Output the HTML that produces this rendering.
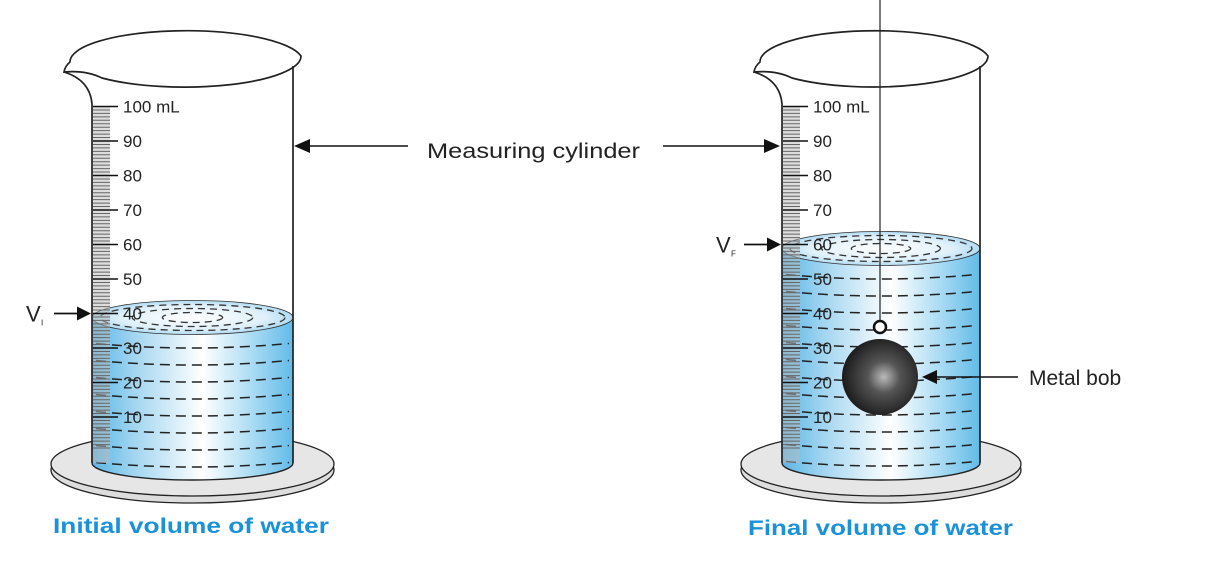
<!DOCTYPE html>
<html><head><meta charset="utf-8"><style>
html,body{margin:0;padding:0;background:#fff;}
svg{display:block;font-family:"Liberation Sans",sans-serif;}
</style></head><body>
<svg id="s" width="1211" height="576" viewBox="0 0 1211 576">
<defs>
<linearGradient id="water" x1="0" x2="1" y1="0" y2="0">
<stop offset="0" stop-color="#5ab6e6"/><stop offset="0.2" stop-color="#9fd4f0"/><stop offset="0.55" stop-color="#ffffff"/><stop offset="0.8" stop-color="#a9dbf3"/><stop offset="1" stop-color="#62bbe8"/>
</linearGradient>
<radialGradient id="surf" cx="0.5" cy="0.5" r="0.6">
<stop offset="0" stop-color="#ffffff"/><stop offset="0.6" stop-color="#dff0fa"/><stop offset="1" stop-color="#8fcdee"/>
</radialGradient>
<radialGradient id="bob" cx="0.55" cy="0.5" r="0.6">
<stop offset="0" stop-color="#bbb"/><stop offset="0.35" stop-color="#555"/><stop offset="1" stop-color="#111"/>
</radialGradient>
</defs>
<g id="left"></g>
<g id="right"></g>
<g>
<line x1="408" y1="146" x2="305" y2="146" stroke="#111" stroke-width="1.6"/>
<polygon points="294,146 310,139 310,153" fill="#111"/>
<text x="427" y="158" font-size="21" fill="#222" textLength="213" lengthAdjust="spacingAndGlyphs">Measuring cylinder</text>
<line x1="663" y1="146" x2="768" y2="146" stroke="#111" stroke-width="1.6"/>
<polygon points="780,146 764,139 764,153" fill="#111"/>
</g>
<text x="53" y="533" font-size="21" font-weight="bold" fill="#1b92d8" textLength="276" lengthAdjust="spacingAndGlyphs">Initial volume of water</text>
<text x="748" y="535" font-size="21" font-weight="bold" fill="#1b92d8" textLength="265" lengthAdjust="spacingAndGlyphs">Final volume of water</text>
</svg>
<script>
const levels = [40, 60];
const ticks = [100, 90, 80, 70, 60, 50, 40, 30, 20, 10];
const NS = "http://www.w3.org/2000/svg";
function mk(p, tag, a) { const e = document.createElementNS(NS, tag); for (const k in a) e.setAttribute(k, a[k]); p.appendChild(e); return e; }
function yv(v) { return 451.5 - 3.45 * v; }
function beaker(g, x0, x1, level, label, bob) {
  const cx = (x0 + x1) / 2, rx = (x1 - x0) / 2;
  let e = mk(g, 'ellipse', {cx: cx, cy: 470, rx: rx + 41, ry: 33, fill: '#ddd', stroke: '#222', 'stroke-width': 1.3});
   
  e = mk(g, 'ellipse', {cx: cx, cy: 464, rx: rx + 41, ry: 32, fill: '#e6e6e6', stroke: '#222', 'stroke-width': 1.3});
   
  const ys = yv(level) + 4, yb = 463;
  const w = mk(g, 'path', {d: `M${x0},${ys} L${x0},${yb} A${rx},17 0 0 0 ${x1},${yb} L${x1},${ys} Z`, fill: 'url(#water)'});
   
  for (let y = ys + 30; y < yb + 12; y += 17) {
    const d = mk(g, 'path', {d: `M${x0 + 4},${y - 4} Q${cx},${y + 5} ${x1 - 4},${y - 4}`, fill: 'none', stroke: '#222', 'stroke-width': 1.5, 'stroke-dasharray': '10 6'});
     
  }
  const s = mk(g, 'ellipse', {cx: cx, cy: ys, rx: rx, ry: 17, fill: 'url(#surf)', stroke: '#333', 'stroke-width': 0.8});
   
  [[rx - 8, 13], [rx * 0.6, 9], [rx * 0.3, 5]].forEach(r => {
    const c = mk(g, 'ellipse', {cx: cx, cy: ys, rx: r[0], ry: r[1], fill: 'none', stroke: '#333', 'stroke-width': 1.3, 'stroke-dasharray': '7 5'});
     
  });
  const band = mk(g, 'rect', {x: x0, y: yv(100), width: 18, height: yb - yv(100), fill: '#bbb', opacity: 0.5});
   
  for (let v = 1; v <= 100; v++) {
    const t = mk(g, 'line', {x1: x0 + 1, x2: x0 + 18, y1: yv(v), y2: yv(v), stroke: '#666', 'stroke-width': 1});
     
  }
  ticks.forEach(v => {
    const t = mk(g, 'line', {x1: x0 + 1, x2: x0 + 26, y1: yv(v), y2: yv(v), stroke: '#111', 'stroke-width': 1.4});
     
    const tx = mk(g, 'text', {x: x0 + 31, y: yv(v) + 6, 'font-size': 17, fill: '#222'});
    tx.textContent = v === 100 ? '100  mL' : String(v);
     
  });
  // rim ellipse with spout
  const ecx = cx - 8, erx = rx + 16, ery = 31, ecy = 56;
  const rim = mk(g, 'path', {d: `M${x0 - 22},62 A${erx},${ery} 0 0 1 ${ecx + erx},${ecy} A${erx},${ery} 0 0 1 ${x0 + 10},78 Q${x0 - 6},70 ${x0 - 28},72 Q${x0 - 27},66 ${x0 - 22},62 Z`, fill: 'none', stroke: '#222', 'stroke-width': 1.7});
   
  const o = mk(g, 'path', {d: `M${x0 - 28},72 Q${x0 - 2},80 ${x0},104 L${x0},463 M${x1},66 L${x1},463`, fill: 'none', stroke: '#222', 'stroke-width': 1.7});
   
  const bt = mk(g, 'path', {d: `M${x0},463 A${rx},17 0 0 0 ${x1},463`, fill: 'none', stroke: '#222', 'stroke-width': 1.4});
   
  const ay = yv(level);
  mk(g, 'line', {x1: x0 - 38, x2: x0 - 12, y1: ay, y2: ay, stroke: '#111', 'stroke-width': 1.8});
  const ar = mk(g, 'polygon', {points: `${x0 - 1},${ay} ${x0 - 15},${ay - 7} ${x0 - 15},${ay + 7}`, fill: '#111'});
   
  const vt = mk(g, 'text', {x: x0 - 66, y: ay + 8, 'font-size': 22, fill: '#222'});
  vt.textContent = 'V';
   
  const sub = mk(g, 'text', {x: x0 - 51, y: ay + 12, 'font-size': 8, fill: '#222'});
  sub.textContent = label;
   
  if (bob) {
    const bx = 880;
    const st = mk(g, 'line', {x1: bx, x2: bx, y1: 0, y2: 320, stroke: '#222', 'stroke-width': 1.2});
     
    const rg = mk(g, 'circle', {cx: bx, cy: 327, r: 6, fill: '#fff', stroke: '#111', 'stroke-width': 2.5});
     
    const b = mk(g, 'circle', {cx: bx, cy: 377, r: 38, fill: 'url(#bob)'});
     
    mk(g, 'line', {x1: 1018, x2: 935, y1: 377, y2: 377, stroke: '#111', 'stroke-width': 1.6});
    const ba = mk(g, 'polygon', {points: `922,377 937,370 937,384`, fill: '#111'});
     
    const bl = mk(g, 'text', {x: 1029, y: 385, 'font-size': 21, fill: '#222'});
    bl.textContent = 'Metal bob';
     
  }
}
beaker(document.getElementById('left'), 92, 293, levels[0], 'I', false);
beaker(document.getElementById('right'), 782, 980, levels[1], 'F', true);
</script>
</body></html>
